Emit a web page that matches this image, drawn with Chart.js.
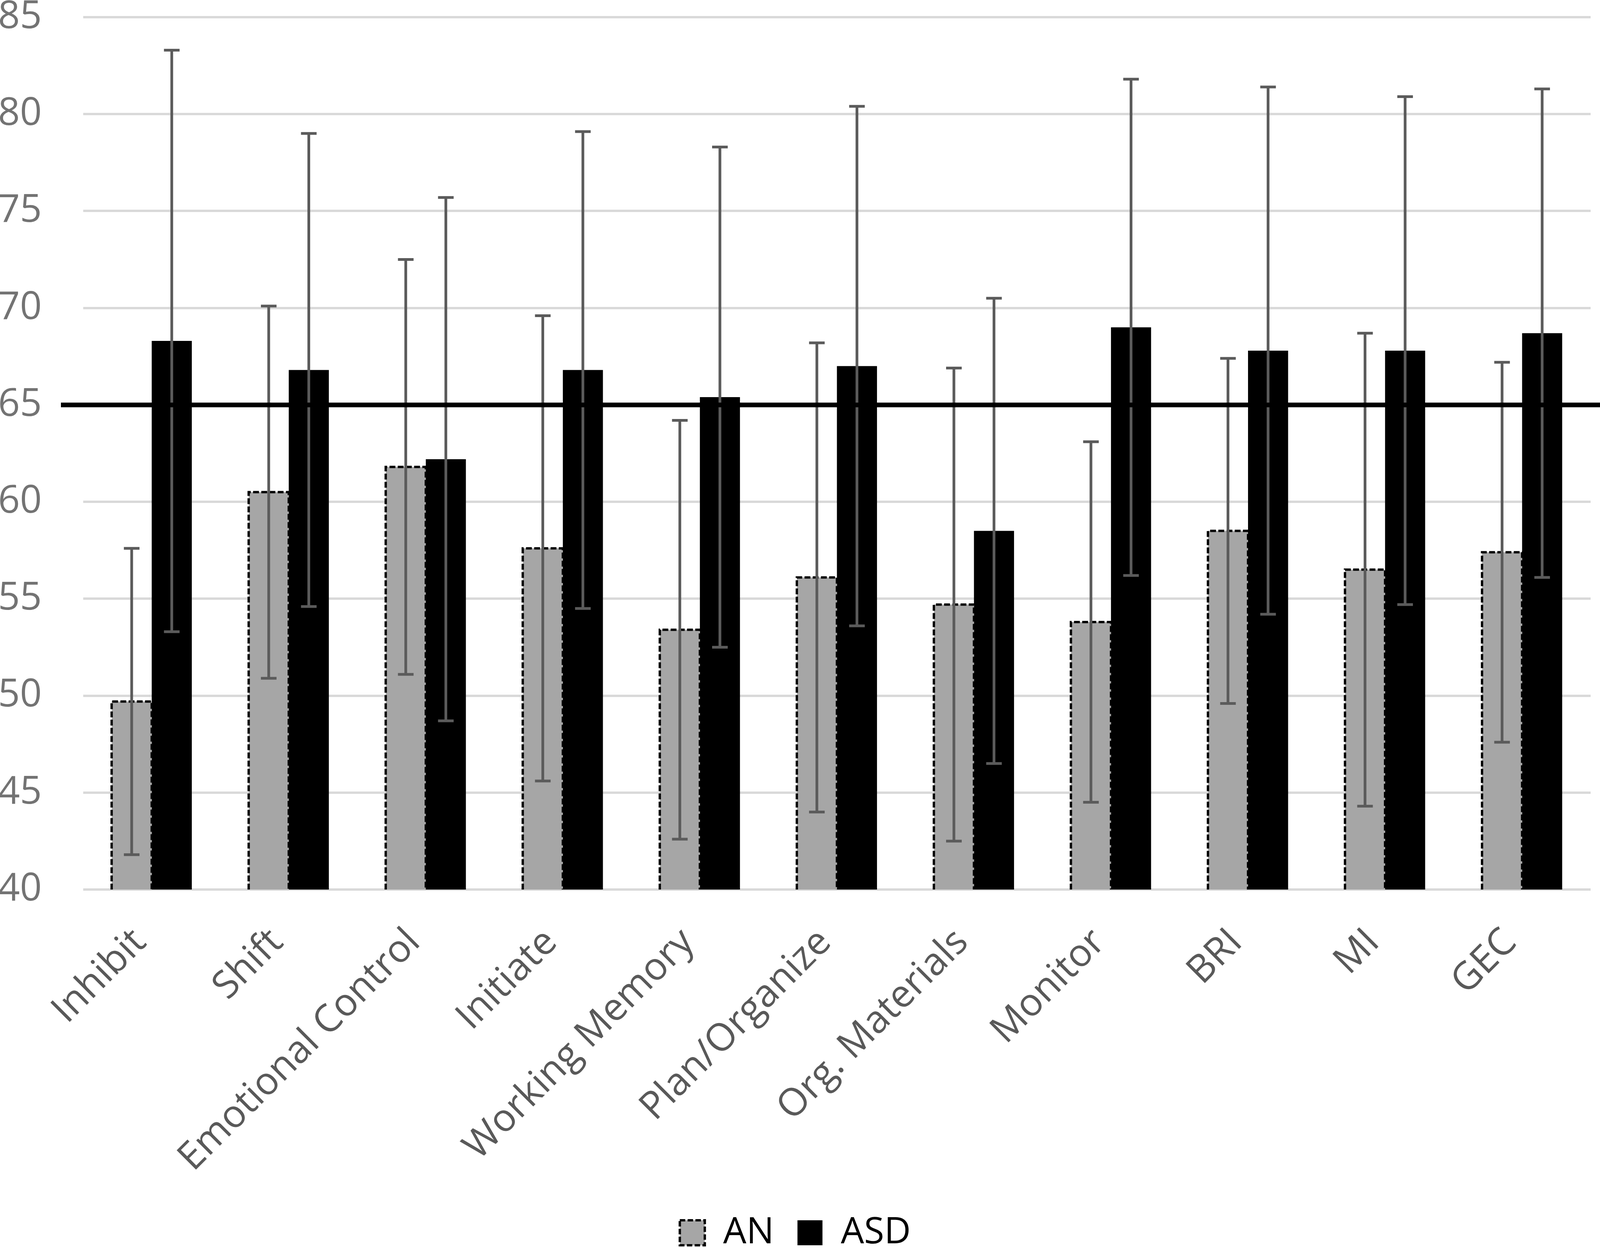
<!DOCTYPE html>
<html>
<head>
<meta charset="utf-8">
<script src="https://cdn.jsdelivr.net/npm/chart.js@4.4.1/dist/chart.umd.min.js"></script>
<style>
  body { margin: 0; background: #fff; overflow: hidden; }
  canvas { display: block; }
</style>
</head>
<body>
<canvas id="brief" width="4149" height="3196"></canvas>
<script>
// BRIEF T-scores, AN vs ASD (bars = mean, whiskers = +/- 1 SD)
const categories = ["Inhibit", "Shift", "Emotional Control", "Initiate", "Working Memory",
  "Plan/Organize", "Org. Materials", "Monitor", "BRI", "MI", "GEC"];

const anMean  = [49.7, 60.5, 61.8, 57.6, 53.4, 56.1, 54.7, 53.8, 58.5, 56.5, 57.4];
const anSD    = [7.9, 9.6, 10.7, 12.0, 10.8, 12.1, 12.2, 9.3, 8.9, 12.2, 9.8];
const asdMean = [68.3, 66.8, 62.2, 66.8, 65.4, 67.0, 58.5, 69.0, 67.8, 67.8, 68.7];
const asdSD   = [15.0, 12.2, 13.5, 12.3, 12.9, 13.4, 12.0, 12.8, 13.6, 13.1, 12.6];

const yTicks = [40, 45, 50, 55, 60, 65, 70, 75, 80, 85];
const cutoff = 65;

const FONT = "'Open Sans', 'Noto Sans', sans-serif";

// dashed outline for AN bars, SD whiskers, then the clinical cutoff line on top
const overlayPlugin = {
  id: "overlay",
  afterDatasetsDraw(chart) {
    const ctx = chart.ctx;
    const y = chart.scales.y;
    const base = y.getPixelForValue(y.min);

    // AN bar outline
    ctx.save();
    ctx.strokeStyle = "#000";
    ctx.lineWidth = 6;
    ctx.setLineDash([15, 6]);
    chart.getDatasetMeta(0).data.forEach((bar) => {
      const l = bar.x - bar.width / 2;
      const r = bar.x + bar.width / 2;
      ctx.beginPath();
      ctx.moveTo(l, base);
      ctx.lineTo(l, bar.y);
      ctx.lineTo(r, bar.y);
      ctx.lineTo(r, base);
      ctx.stroke();
    });
    ctx.restore();

    // error bars
    const series = [[anMean, anSD], [asdMean, asdSD]];
    ctx.save();
    ctx.strokeStyle = "#5b5b5b";
    ctx.lineWidth = 7;
    series.forEach(([means, sds], di) => {
      chart.getDatasetMeta(di).data.forEach((bar, i) => {
        const hi = y.getPixelForValue(means[i] + sds[i]);
        const lo = y.getPixelForValue(means[i] - sds[i]);
        const cap = 20;
        ctx.beginPath();
        ctx.moveTo(bar.x, hi);
        ctx.lineTo(bar.x, lo);
        ctx.moveTo(bar.x - cap, hi);
        ctx.lineTo(bar.x + cap, hi);
        ctx.moveTo(bar.x - cap, lo);
        ctx.lineTo(bar.x + cap, lo);
        ctx.stroke();
      });
    });
    ctx.restore();

    // cutoff line at T = 65
    const yc = y.getPixelForValue(cutoff);
    ctx.save();
    ctx.strokeStyle = "#000";
    ctx.lineWidth = 12;
    ctx.beginPath();
    ctx.moveTo(chart.chartArea.left - 57, yc);
    ctx.lineTo(chart.width, yc);
    ctx.stroke();
    ctx.restore();
  },
};

const ctx = document.getElementById("brief").getContext("2d");

new Chart(ctx, {
  type: "bar",
  data: {
    labels: categories,
    datasets: [
      {
        label: "AN",
        data: anMean,
        backgroundColor: "#a6a6a6",
        borderWidth: 0,
        categoryPercentage: 0.585,
        barPercentage: 1.0,
      },
      {
        label: "ASD",
        data: asdMean,
        backgroundColor: "#000000",
        borderWidth: 0,
        categoryPercentage: 0.585,
        barPercentage: 1.0,
      },
    ],
  },
  options: {
    responsive: false,
    devicePixelRatio: 1,
    animation: false,
    layout: {
      padding: { left: 0, top: 44, right: 77, bottom: -18 },
    },
    plugins: {
      tooltip: { enabled: false },
      legend: {
        display: true,
        position: "bottom",
        labels: {
          boxWidth: 64,
          boxHeight: 64,
          padding: 60,
          color: "#767676",
          font: { family: FONT, size: 94 },
          generateLabels: () => [
            {
              text: "AN",
              fillStyle: "#a6a6a6",
              strokeStyle: "#000",
              lineWidth: 6,
              lineDash: [14, 6],
              hidden: false,
              datasetIndex: 0,
            },
            {
              text: "ASD",
              fillStyle: "#000",
              strokeStyle: "#000",
              lineWidth: 0,
              hidden: false,
              datasetIndex: 1,
            },
          ],
        },
      },
    },
    scales: {
      x: {
        grid: { display: false },
        border: { display: false },
        ticks: {
          autoSkip: false,
          minRotation: 45,
          maxRotation: 45,
          labelOffset: -30,
          padding: 70,
          color: "#595959",
          font: { family: FONT, size: 98 },
        },
        afterFit: (s) => {
          s.height = 772;
          s.paddingLeft = 0;
          s.paddingRight = 0;
        },
      },
      y: {
        min: 40,
        max: 85,
        afterBuildTicks: (s) => {
          s.ticks = yTicks.map((v) => ({ value: v }));
        },
        grid: {
          color: "#d9d9d9",
          lineWidth: 6,
          drawTicks: false,
        },
        border: { display: false },
        ticks: {
          padding: 106,
          color: "#737373",
          font: { family: FONT, size: 98 },
        },
        afterFit: (s) => {
          s.width = 213;
          s.paddingTop = 0;
          s.paddingBottom = 0;
        },
      },
    },
  },
  plugins: [overlayPlugin],
});
</script>
</body>
</html>
